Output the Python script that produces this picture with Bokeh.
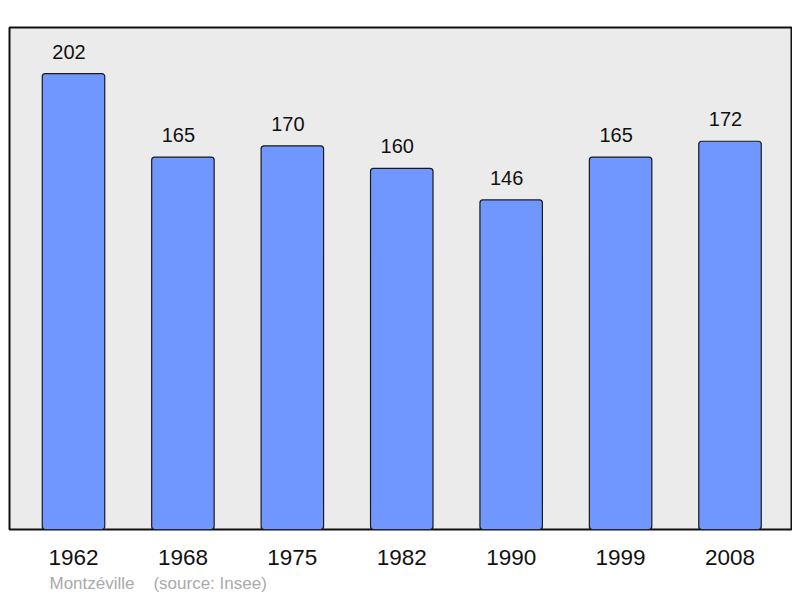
from bokeh.plotting import figure
from bokeh.models import FixedTicker, Range1d, Title, ColumnDataSource
from bokeh.core.properties import value
from bokeh.embed import file_html
from bokeh.resources import INLINE

years = ["1962", "1968", "1975", "1982", "1990", "1999", "2008"]
population = [202, 165, 170, 160, 146, 165, 172]
footer = "Montzéville\u00a0\u00a0\u00a0\u00a0(source: Insee)"

xs = list(range(len(years)))
src = ColumnDataSource(dict(x=xs, top=population, lbl=[str(v) for v in population]))

p = figure(width=792, height=598, output_backend="svg", toolbar_location=None,
           x_range=Range1d(-0.585, 6.562), y_range=Range1d(0, 222.4),
           min_border_left=9, min_border_right=1, min_border_top=27, min_border_bottom=69)
p.background_fill_color = "#ebebeb"
p.border_fill_color = "white"
p.outline_line_color = "#111111"
p.outline_line_width = 2
p.xgrid.visible = False
p.ygrid.visible = False
p.yaxis.visible = False

p.vbar(x="x", top="top", width=0.571, bottom=0, source=src, fill_color="#7096ff",
       line_color="#1a1a1a", line_width=1.2, border_radius=3)
p.text(x="x", y="top", text="lbl", source=src, text_align="center", text_baseline="alphabetic",
       x_offset=-4.5, y_offset=-22, text_font=value("Liberation Sans"), text_font_size="20px",
       text_color="#111111")

ax = p.xaxis[0]
ax.ticker = FixedTicker(ticks=xs)
ax.major_label_overrides = {i: y for i, y in enumerate(years)}
ax.axis_line_color = None
ax.major_tick_line_color = None
ax.minor_tick_line_color = None
ax.major_label_text_font = "Liberation Sans"
ax.major_label_text_font_size = "22.5px"
ax.major_label_text_color = "#111111"
ax.major_label_standoff = 14

p.add_layout(Title(text=footer, align="left", offset=40, standoff=8,
                   text_font="Liberation Sans", text_font_size="17px",
                   text_font_style="normal", text_color="#aaaaaa"), "below")

open("out.html", "w").write(file_html(p, INLINE))
